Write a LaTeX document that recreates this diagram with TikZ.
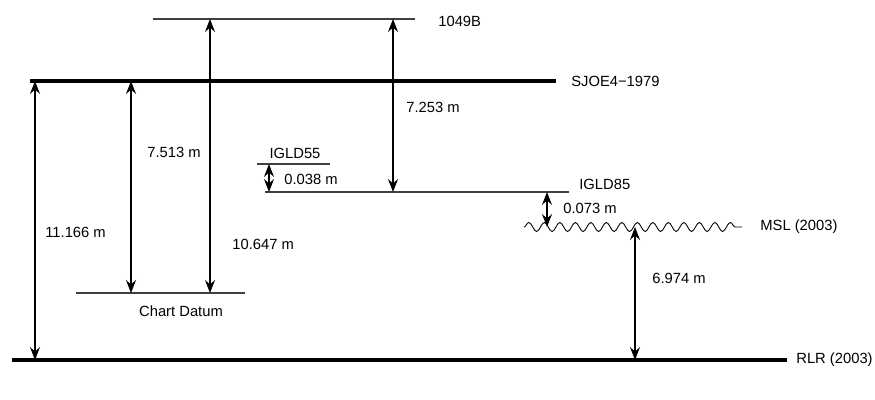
\documentclass[tikz,border=0pt]{standalone}
\usepackage{fontspec}
\setmainfont{Liberation Sans}
\usetikzlibrary{arrows.meta,decorations.pathmorphing}

\begin{document}
\begin{tikzpicture}[
    datum/.style={line width=0.6pt, black!75},
    mainlevel/.style={line width=1.8pt},
    dim/.style={{Stealth[length=2.6mm,width=2mm,inset=0.9mm]}-{Stealth[length=2.6mm,width=2mm,inset=0.9mm]}, line width=0.6pt},
    lbl/.style={anchor=west, inner sep=0pt, font=\fontsize{8.4}{10}\selectfont},
    wave/.style={decorate, decoration={snake, amplitude=0.9mm, segment length=3.1mm}, line width=0.5pt}
  ]
    \useasboundingbox (0,0) rectangle (17.5,8);

    % levels
    \coordinate (bmA) at (3.06,7.62);   \coordinate (bmB) at (8.3,7.62);
    \coordinate (sjoeA) at (0.6,6.38);  \coordinate (sjoeB) at (11.12,6.38);
    \coordinate (g55A) at (5.14,4.72);  \coordinate (g55B) at (6.6,4.72);
    \coordinate (g85A) at (5.3,4.16);   \coordinate (g85B) at (11.38,4.16);
    \coordinate (mslA) at (10.48,3.46); \coordinate (mslB) at (14.84,3.46);
    \coordinate (cdA) at (1.52,2.14);   \coordinate (cdB) at (4.9,2.14);
    \coordinate (rlrA) at (0.24,0.8);   \coordinate (rlrB) at (15.74,0.8);

    \draw[datum] (bmA) -- (bmB);
    \draw[mainlevel] (sjoeA) -- (sjoeB);
    \draw[datum] (g55A) -- (g55B);
    \draw[datum] (g85A) -- (g85B);
    \draw[wave] (mslA) -- (mslB);
    \draw[datum] (cdA) -- (cdB);
    \draw[mainlevel] (rlrA) -- (rlrB);

    \node[lbl] (bmLbl) at (8.76,7.58) {1049B};
    \node[lbl] (sjoeLbl) at (11.42,6.38) {SJOE4−1979};
    \node[lbl, anchor=center] (g55Lbl) at (5.9,4.94) {IGLD55};
    \node[lbl] (g85Lbl) at (11.58,4.31) {IGLD85};
    \node[lbl] (mslLbl) at (15.2,3.46) {MSL (2003)};
    \node[lbl, anchor=center] (cdLbl) at (3.62,1.78) {Chart Datum};
    \node[lbl] (rlrLbl) at (15.92,0.8) {RLR (2003)};

    % dimension arrows
    \coordinate (colA) at (0.7,0);
    \coordinate (colB) at (2.62,0);
    \coordinate (colC) at (4.2,0);
    \coordinate (colD) at (5.38,0);
    \coordinate (colE) at (7.86,0);
    \coordinate (colF) at (10.94,0);
    \coordinate (colG) at (12.7,0);

    \draw[dim] (colA |- rlrA) -- (colA |- sjoeA);
    \draw[dim] (colB |- cdA) -- (colB |- sjoeA);
    \draw[dim] (colC |- cdA) -- (colC |- bmA);
    \draw[dim] (colD |- g85A) -- (colD |- g55A);
    \draw[dim] (colE |- g85A) -- (colE |- bmA);
    \draw[dim] (colF |- mslA) -- (colF |- g85A);
    \draw[dim] (colG |- rlrA) -- (colG |- mslA);

    \node[lbl] (dimA) at (0.9,3.36) {11.166 m};
    \node[lbl] (dimB) at (2.94,4.96) {7.513 m};
    \node[lbl] (dimC) at (4.64,3.12) {10.647 m};
    \node[lbl] (dimD) at (5.68,4.42) {0.038 m};
    \node[lbl] (dimE) at (8.12,5.86) {7.253 m};
    \node[lbl] (dimF) at (11.26,3.84) {0.073 m};
    \node[lbl] (dimG) at (13.04,2.44) {6.974 m};
  \end{tikzpicture}
\end{document}
